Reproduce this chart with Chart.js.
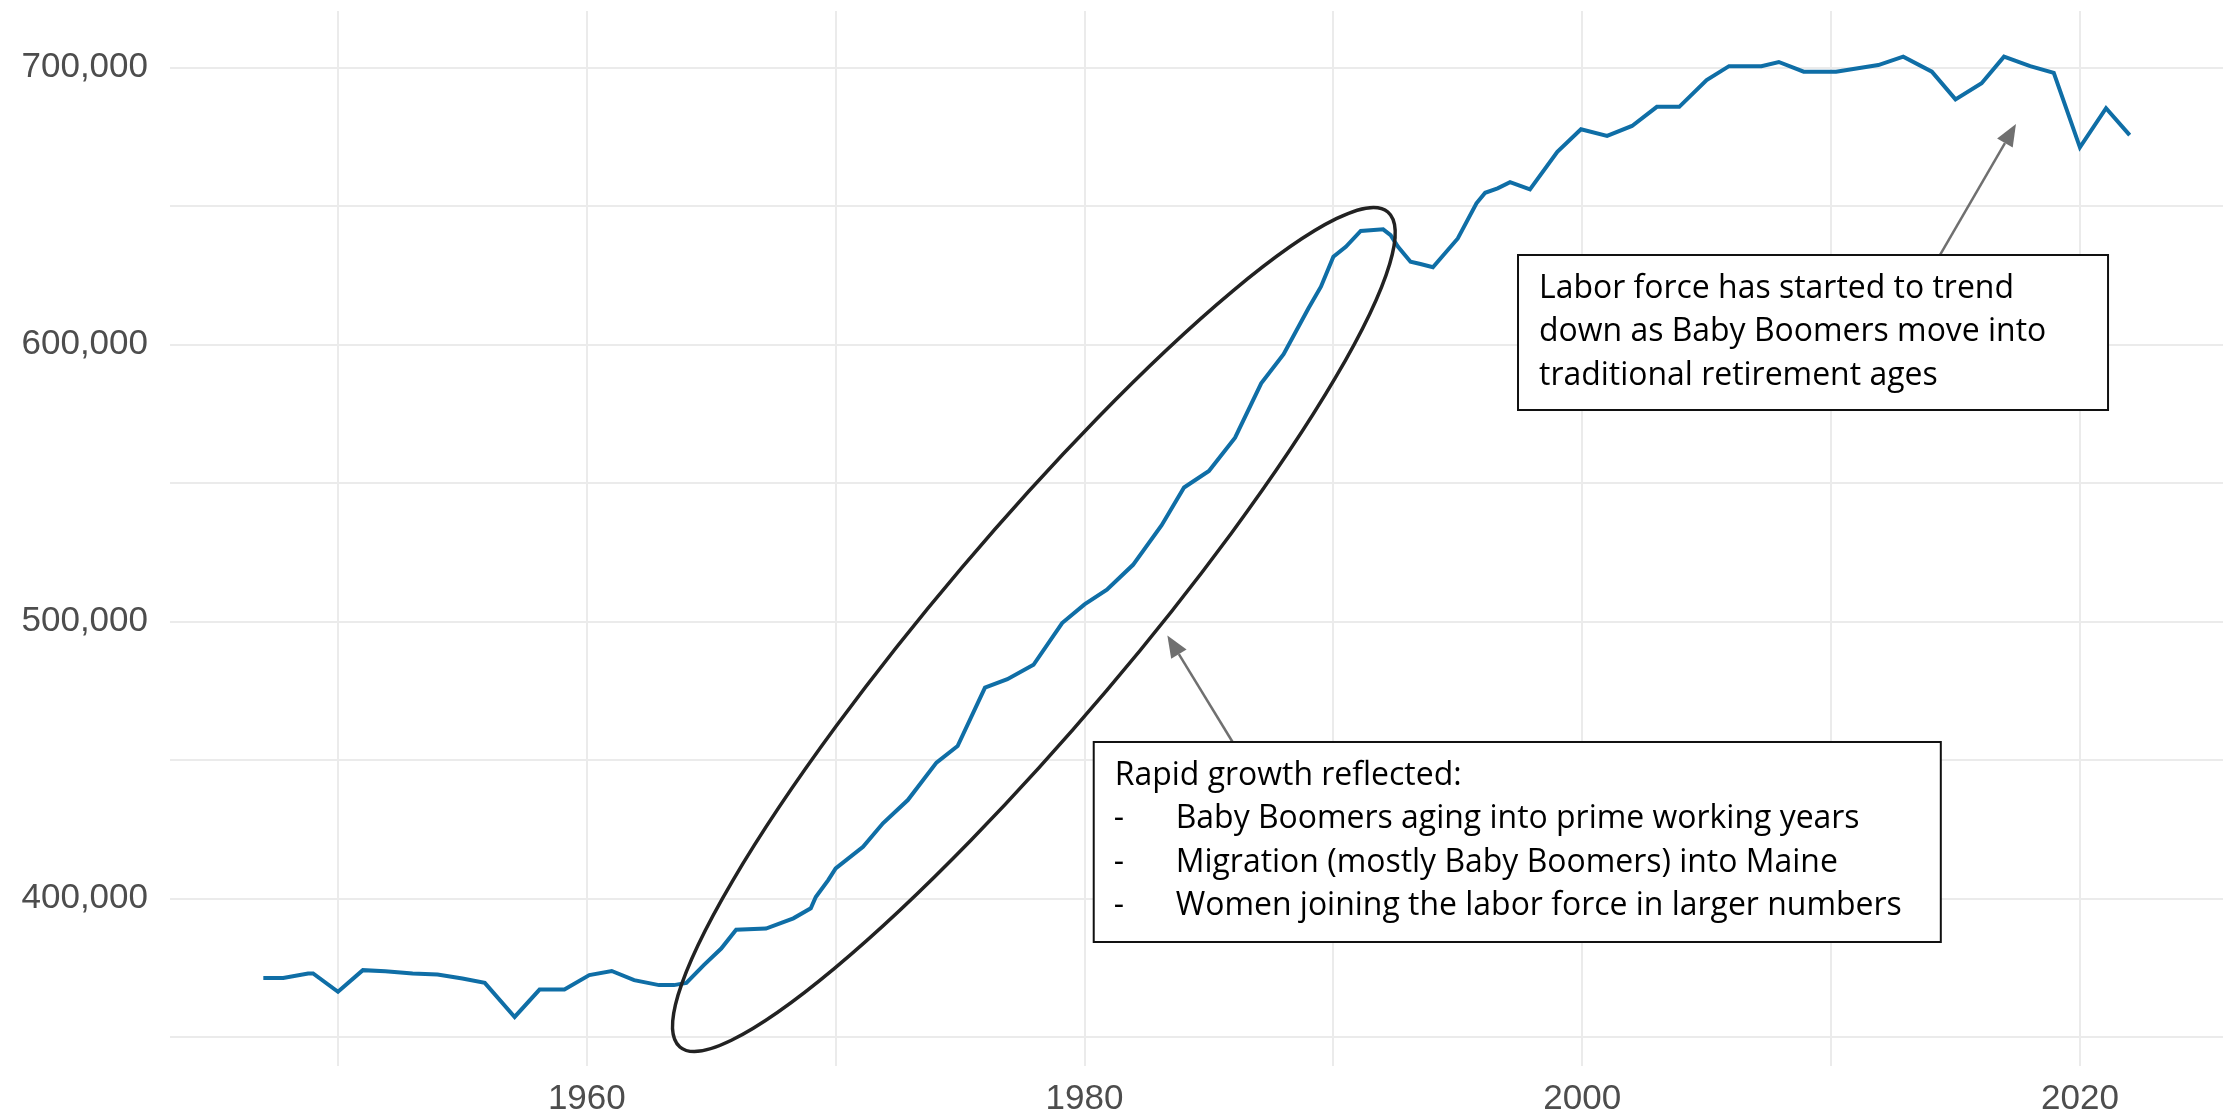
<!DOCTYPE html>
<html>
<head>
<meta charset="utf-8">
<script src="https://cdn.jsdelivr.net/npm/chart.js@4"></script>
<style>
  html, body { margin: 0; padding: 0; background: #fff; }
  #wrap { width: 2234px; height: 1118px; }
</style>
</head>
<body>
<div id="wrap"><canvas id="laborChart"></canvas></div>
<script>
// Maine civilian labor force (year, persons)
const years = [
  1947.0, 1947.8, 1948.8, 1949.0, 1950.0, 1951.0, 1951.9, 1953.0, 1954.0, 1955.0,
  1955.9, 1957.1, 1958.1, 1959.1, 1960.1, 1961.0, 1961.9, 1962.9, 1963.5, 1964.0,
  1964.7, 1965.4, 1966.0, 1967.2, 1968.3, 1969.0, 1969.2, 1969.7, 1970.0, 1971.1,
  1971.9, 1972.9, 1974.05, 1974.9, 1976.0, 1976.9, 1977.95, 1979.1, 1980.0, 1980.9,
  1981.95, 1983.1, 1984.0, 1985.0, 1986.05, 1987.1, 1988.0, 1989.0, 1989.5, 1990.0,
  1990.5, 1991.1, 1992.0, 1992.3, 1992.6, 1993.1, 1993.5, 1994.0, 1995.0, 1995.75,
  1996.1, 1996.6, 1997.1, 1997.9, 1999.0, 1999.95, 2001.0, 2002.0, 2003.0, 2003.9,
  2005.0, 2005.9, 2007.2, 2007.9, 2008.9, 2010.2, 2011.9, 2012.9, 2014.05, 2015.0,
  2016.05, 2016.95, 2018.0, 2018.95, 2020.0, 2021.05, 2022.0
]
const laborForce = [
  371400, 371400, 373000, 373000, 366400, 374200, 373800, 373000, 372600, 371200,
  369600, 357300, 367200, 367200, 372400, 373900, 370600, 368800, 368800, 369600,
  376000, 382000, 388800, 389200, 392900, 396500, 400600, 406700, 410900, 418700,
  427200, 435600, 449100, 455100, 476200, 479200, 484400, 499500, 506200, 511500,
  520500, 534800, 548400, 554400, 566400, 586000, 596500, 613100, 620900, 631700,
  635300, 641000, 641600, 639500, 635300, 629900, 629100, 627900, 638300, 651000,
  654800, 656400, 658600, 656000, 669600, 677700, 675300, 678900, 685800, 685800,
  695500, 700500, 700500, 702000, 698500, 698500, 700900, 703900, 698500, 688500,
  694300, 703900, 700500, 698100, 671200, 685300, 675600
]

// axis ranges, grid ticks and labelled ticks
const xRange = [1943.25, 2025.75]
const yRange = [339600, 720400]
const xTicks = [1950, 1960, 1970, 1980, 1990, 2000, 2010, 2020]
const xLabels = [1960, 1980, 2000, 2020]
const yTicks = [350000, 400000, 450000, 500000, 550000, 600000, 650000, 700000]
const yLabels = [400000, 500000, 600000, 700000]

// annotation texts
const growthNote = [
  "Rapid growth reflected:",
  "Baby Boomers aging into prime working years",
  "Migration (mostly Baby Boomers) into Maine",
  "Women joining the labor force in larger numbers"
]
const retireNote = [
  "Labor force has started to trend",
  "down as Baby Boomers move into",
  "traditional retirement ages"
]

// annotation anchors in data coordinates
const ellipseAnchor = { from: [1963.74, 346460], to: [1992.19, 647850], halfWidth: 95 }
const growthBox = { x1: 1980.37, y1: 456550, x2: 2014.41, y2: 384360 }
const retireBox = { x1: 1997.42, y1: 632330, x2: 2021.13, y2: 576380 }
const growthArrow = { from: [1985.95, 456550], to: [1983.33, 495030] }
const retireArrow = { from: [2014.38, 632330], to: [2017.43, 679600] }

const noteFont = '33px "Open Sans", "DejaVu Sans", sans-serif'

function drawArrow(ctx, sx, sy, ex, ey) {
    const ang = Math.atan2(ey - sy, ex - sx)
    const len = 22, half = 9
    const bx = ex - Math.cos(ang) * len, by = ey - Math.sin(ang) * len
    ctx.strokeStyle = '#707070'
    ctx.fillStyle = '#707070'
    ctx.lineWidth = 2.5
    ctx.beginPath()
    ctx.moveTo(sx, sy)
    ctx.lineTo(bx, by)
    ctx.stroke()
    ctx.beginPath()
    ctx.moveTo(ex, ey)
    ctx.lineTo(bx + Math.sin(ang) * half, by - Math.cos(ang) * half)
    ctx.lineTo(bx - Math.sin(ang) * half, by + Math.cos(ang) * half)
    ctx.closePath()
    ctx.fill()
}

function drawSqueezed(ctx, text, tx, ty, sx) {
    ctx.save()
    ctx.translate(tx, ty)
    ctx.scale(sx, 1)
    ctx.fillText(text, 0, 0)
    ctx.restore()
}

const notesPlugin = {
    id: 'notes',
    afterDatasetsDraw(chart) {
        const { ctx } = chart
        const xs = chart.scales.x, ys = chart.scales.y
        const px = v => xs.getPixelForValue(v)
        const py = v => ys.getPixelForValue(v)
        ctx.save()

        // ellipse round the growth years
        const ex1 = px(ellipseAnchor.from[0]), ey1 = py(ellipseAnchor.from[1])
        const ex2 = px(ellipseAnchor.to[0]), ey2 = py(ellipseAnchor.to[1])
        ctx.beginPath()
        ctx.ellipse((ex1 + ex2) / 2, (ey1 + ey2) / 2, Math.hypot(ex2 - ex1, ey2 - ey1) / 2,
            ellipseAnchor.halfWidth, Math.atan2(ey2 - ey1, ex2 - ex1), 0, Math.PI * 2)
        ctx.strokeStyle = '#222'
        ctx.lineWidth = 3.5
        ctx.stroke()

        // arrows
        drawArrow(ctx, px(growthArrow.from[0]), py(growthArrow.from[1]), px(growthArrow.to[0]), py(growthArrow.to[1]))
        drawArrow(ctx, px(retireArrow.from[0]), py(retireArrow.from[1]), px(retireArrow.to[0]), py(retireArrow.to[1]))

        // narrow the text to mimic the original narrow font
        ctx.font = noteFont
        const sq = 726 / ctx.measureText(growthNote[3]).width

        // boxes
        const boxes = [
            { b: growthBox, lines: growthNote, bullets: true },
            { b: retireBox, lines: retireNote, bullets: false }
        ]
        boxes.forEach(({ b, lines, bullets }) => {
            const l = px(b.x1), t = py(b.y1), r = px(b.x2), bt = py(b.y2)
            ctx.fillStyle = '#fff'
            ctx.fillRect(l, t, r - l, bt - t)
            ctx.strokeStyle = '#111'
            ctx.lineWidth = 2
            ctx.strokeRect(l, t, r - l, bt - t)
            ctx.fillStyle = '#000'
            ctx.font = noteFont
            ctx.textBaseline = 'alphabetic'
            ctx.textAlign = 'left'
            lines.forEach((line, i) => {
                const base = t + 43 + i * 43.5
                if (bullets && i > 0) {
                    drawSqueezed(ctx, '-', l + 20, base, sq)
                    drawSqueezed(ctx, line, l + 82, base, sq)
                } else {
                    drawSqueezed(ctx, line, l + 21, base, sq)
                }
            })
        })
        ctx.restore()
    }
}

const points = years.map((yr, i) => ({ x: yr, y: laborForce[i] }))
const tickFont = { family: '"Liberation Sans", Arial, sans-serif', size: 35 }

new Chart(document.getElementById('laborChart'), {
    type: 'line',
    data: {
        datasets: [{
            label: 'Labor force',
            data: points,
            borderColor: '#0f6ea6',
            borderWidth: 4,
            pointRadius: 0,
            tension: 0,
            fill: false
        }]
    },
    options: {
        responsive: true,
        maintainAspectRatio: false,
        devicePixelRatio: 1,
        animation: false,
        layout: { padding: { top: 11, right: 11, left: 0, bottom: 0 } },
        plugins: { legend: { display: false }, tooltip: { enabled: false } },
        scales: {
            x: {
                type: 'linear',
                bounds: 'data',
                min: xRange[0], max: xRange[1],
                border: { display: false },
                grid: { color: '#ebebeb', lineWidth: 2, drawTicks: false },
                afterBuildTicks: s => { s.ticks = xTicks.map(v => ({ value: v })) },
                ticks: {
                    autoSkip: false,
                    maxRotation: 0,
                    padding: 12,
                    color: '#4d4d4d',
                    font: tickFont,
                    callback: v => (xLabels.includes(v) ? String(v) : '')
                },
                afterFit: s => { s.height = 52; s.paddingLeft = 0; s.paddingRight = 0 }
            },
            y: {
                type: 'linear',
                bounds: 'data',
                min: yRange[0], max: yRange[1],
                border: { display: false },
                grid: { color: '#ebebeb', lineWidth: 2, drawTicks: false },
                afterBuildTicks: s => { s.ticks = yTicks.map(v => ({ value: v })) },
                ticks: {
                    autoSkip: false,
                    padding: 22,
                    color: '#4d4d4d',
                    font: tickFont,
                    callback: v => (yLabels.includes(v) ? v.toLocaleString('en-US') : '')
                },
                afterFit: s => { s.width = 170; s.paddingTop = 0; s.paddingBottom = 0 }
            }
        }
    },
    plugins: [notesPlugin]
})
</script>
</body>
</html>
